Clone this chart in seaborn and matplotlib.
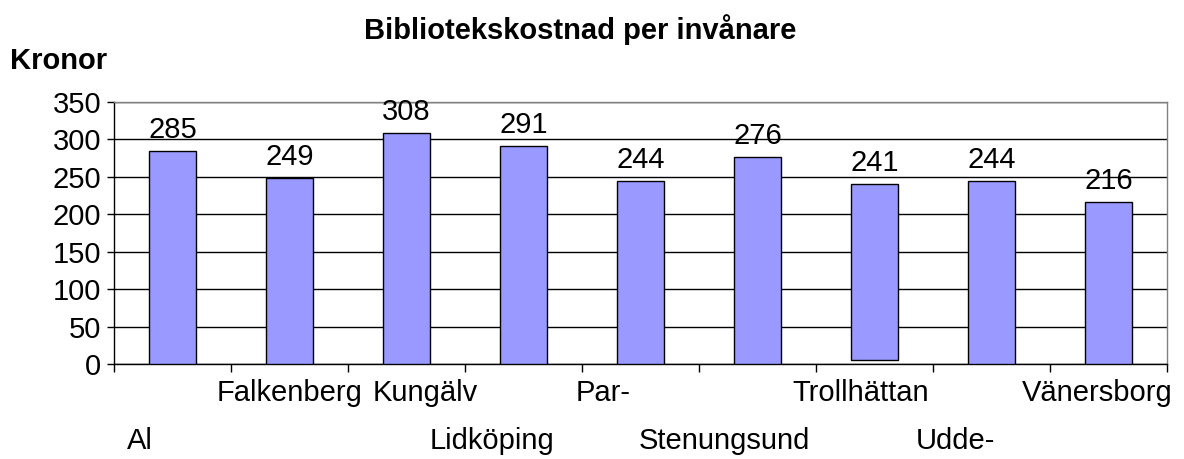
import matplotlib
matplotlib.use("Agg")
import matplotlib.pyplot as plt
import matplotlib.transforms as mtransforms
import pandas as pd
import seaborn as sns

# data
kommuner = ["Al", "Falkenberg", "Kungälv", "Lidköping", "Par-",
            "Stenungsund", "Trollhättan", "Udde-", "Vänersborg"]
kostnad = [285, 249, 308, 291, 244, 276, 241, 244, 216]
bas = [0, 0, 0, 0, 0, 0, 5, 0, 0]  # Trollhättan's bar floats a little above 0
y_ticks = [0, 50, 100, 150, 200, 250, 300, 350]

df = pd.DataFrame({"Kommun": kommuner, "Kostnad": kostnad})

sns.set_style("white")
plt.rcParams["font.family"] = ["Liberation Sans", "DejaVu Sans"]
plt.rcParams["text.color"] = "black"
plt.rcParams["ytick.color"] = "black"
plt.rcParams["xtick.color"] = "black"

fig = plt.figure(figsize=(11.84, 4.59), dpi=100)
ax = fig.add_axes([114 / 1184, 1 - 364 / 459, (1167 - 114) / 1184, 262 / 459])

sns.barplot(data=df, x="Kommun", y="Kostnad", color="#9999FF",
            edgecolor="black", linewidth=1, width=0.41, saturation=1,
            ax=ax, zorder=3)

for p, b, v in zip(ax.patches, bas, kostnad):
    p.set_y(b)
    p.set_height(v - b)

ax.bar_label(ax.containers[0], labels=[str(v) for v in kostnad],
             padding=5, fontsize=21, color="black")

ax.set_ylim(0, 350)
ax.set_xlim(-0.5, len(kommuner) - 0.5)
ax.set_yticks(y_ticks)
ax.set_yticklabels([str(t) for t in y_ticks], fontsize=21)
ax.yaxis.grid(True, color="black", linewidth=1)
ax.set_axisbelow(True)
ax.tick_params(axis="y", left=True, length=5, width=1, pad=4,
               color="black", labelcolor="black")

# ticks between categories, labels drawn by hand in two staggered rows
ax.set_xticks([i - 0.5 for i in range(len(kommuner) + 1)])
ax.set_xticklabels([])
ax.tick_params(axis="x", bottom=True, length=6, width=1, color="black")
ax.set_xlabel("")
ax.set_ylabel("")

for side in ["left", "bottom"]:
    ax.spines[side].set_color("black")
    ax.spines[side].set_linewidth(1)
for side in ["top", "right"]:
    ax.spines[side].set_color("#808080")
    ax.spines[side].set_linewidth(1)

dx = [-33, 0, 19, -32, -37, -33, -14, -36, -11]
row = [1, 0, 0, 1, 0, 1, 0, 1, 0]
for i, (namn, d, r) in enumerate(zip(kommuner, dx, row)):
    dy = 29 if r == 0 else 77
    tr = ax.get_xaxis_transform() + mtransforms.ScaledTranslation(
        d / 100, -dy / 100, fig.dpi_scale_trans)
    ax.text(i, 0, namn, transform=tr, ha="center", va="center",
            fontsize=21, color="black")

fig.text(580 / 1184, 1 - 30 / 459, "Bibliotekskostnad per invånare",
         ha="center", va="center", fontsize=21, fontweight="bold",
         color="black")
fig.text(10 / 1184, 1 - 61 / 459, "Kronor", ha="left", va="center",
         fontsize=21, fontweight="bold", color="black")

fig.savefig("out.png", dpi=100)
